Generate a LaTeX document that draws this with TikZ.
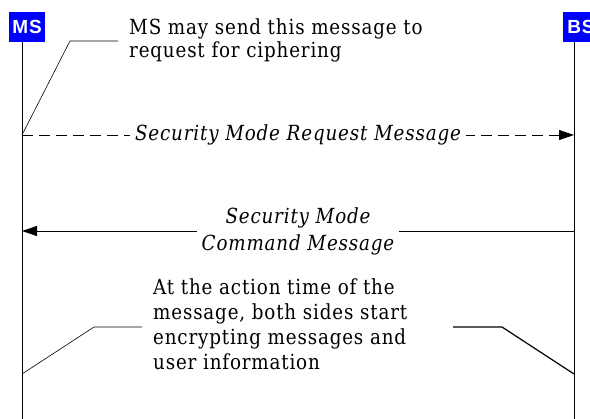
\documentclass[tikz,border=0pt]{standalone}
\usepackage{fontspec}
\setmainfont{DejaVu Serif}[FakeStretch=0.88,LetterSpace=4]
\setsansfont{Liberation Sans}[LetterSpace=5]
\usetikzlibrary{arrows.meta}
\definecolor{headblue}{RGB}{0,0,255}
\tikzset{
  lifeline/.style={draw=black, line width=0.8pt},
  head/.style={fill=headblue, text=white, inner sep=0pt,
    minimum width=36pt, minimum height=30pt,
    font=\sffamily\bfseries\fontsize{19}{19}\selectfont},
  msg/.style={line width=0.8pt, -{Triangle[length=15pt,width=10pt]}},
  msglabel/.style={fill=white, inner xsep=5pt, inner ysep=1pt, align=center,
    font=\itshape\fontsize{20.8}{27}\selectfont},
  note/.style={anchor=base west, inner sep=0pt, align=left},
  leader/.style={line width=0.6pt}
}
\begin{document}
\begin{tikzpicture}[x=1pt,y=-1pt]
\useasboundingbox (0,0) rectangle (590,419);
\clip (0,0) rectangle (590,419);

% lifeline heads
\node[head] (ms) at (27,27) {MS};
\node[head] (bs) at (581,27) {BS};

% lifelines
\coordinate (msbottom) at (22,419);
\coordinate (bsbottom) at (574,419);
\draw[lifeline] (ms.south -| msbottom) -- (msbottom);
\draw[lifeline] (bs.south -| bsbottom) -- (bsbottom);

% messages
\coordinate (req-ms) at (22,135);
\coordinate (req-bs) at (574,135);
\draw[msg, dash pattern=on 11pt off 6pt] (req-ms)
  -- node[msglabel] {Security Mode Request Message} (req-bs);

\coordinate (cmd-ms) at (22,231);
\coordinate (cmd-bs) at (574,231);
\draw[msg] (cmd-bs)
  -- node[msglabel] {Security Mode\\Command Message} (cmd-ms);

% notes (anchored on the baseline of their last line)
\node[note, font=\fontsize{20.8}{23}\selectfont] (reqnote) at (129,58)
  {MS may send this message to\\request for ciphering};
\node[note, font=\fontsize{20.8}{25}\selectfont] (encnote) at (153,370)
  {At the action time of the\\message, both sides start\\encrypting messages and\\user information};

% leader lines from the lifelines to the notes
\coordinate (reqknee) at (70,41);
\coordinate (reqend) at (118,41);
\draw[leader] (req-ms) -- (reqknee) -- (reqend);

\coordinate (enc-ms) at (22,374);
\coordinate (enc-bs) at (574,374);
\draw[leader] (enc-ms) -- (94,327) -- (142,327);
\draw[leader, line width=1.2pt] (453,327) -- (502,327) -- (enc-bs);
\end{tikzpicture}
\end{document}
